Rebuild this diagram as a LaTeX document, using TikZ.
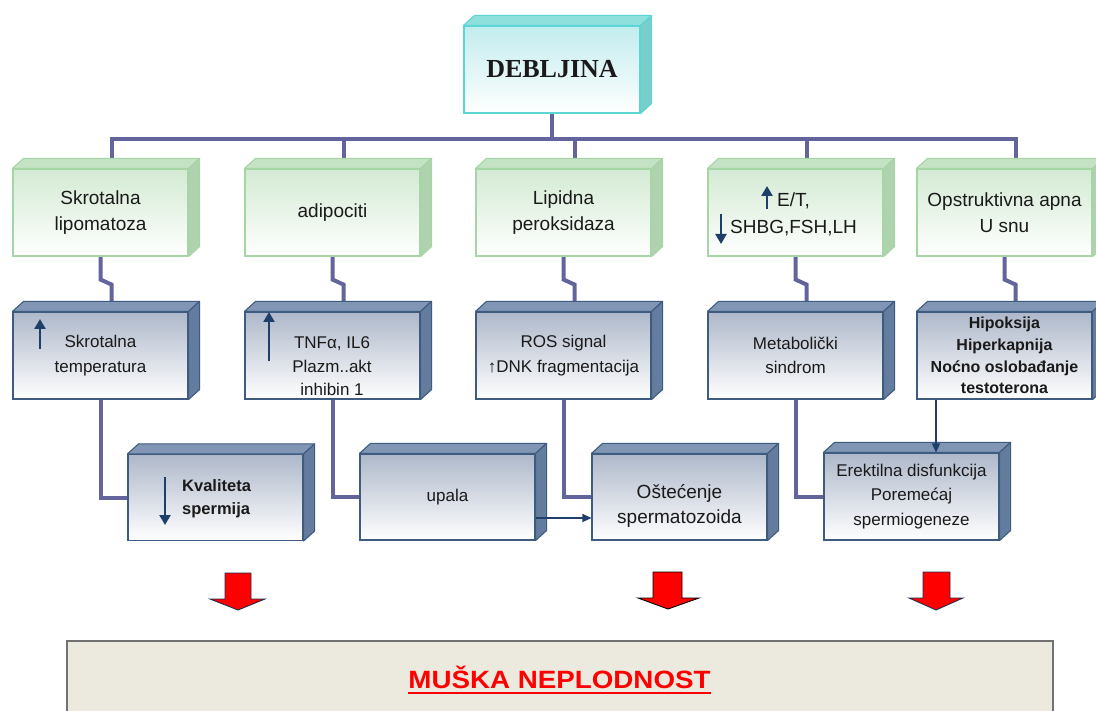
\documentclass[tikz,border=0pt]{standalone}
\usepackage{fontspec}
\setmainfont{Liberation Sans}
\newfontfamily\serifface{Liberation Serif}
\usetikzlibrary{calc,arrows.meta}
\definecolor{busc}{HTML}{63649B}
\definecolor{navy}{HTML}{1F3F6B}
\definecolor{txt}{HTML}{1A1A1A}
\definecolor{gborder}{HTML}{A6D6A6}
\definecolor{gfront}{HTML}{D3EAD3}
\definecolor{gtopf}{HTML}{C4E2C4}
\definecolor{gside}{HTML}{AFD2AF}
\definecolor{bborder}{HTML}{3E5C80}
\definecolor{bfront}{HTML}{AEB8CA}
\definecolor{btopf}{HTML}{8096B4}
\definecolor{bside}{HTML}{647D9F}
\definecolor{cborder}{HTML}{5CD6D4}
\definecolor{cfront}{HTML}{C2ECEE}
\definecolor{ctopf}{HTML}{8EE0DD}
\definecolor{cside}{HTML}{7ACEC9}
\definecolor{beige}{HTML}{ECE9DF}
\definecolor{framec}{HTML}{717171}
\definecolor{redshadow}{HTML}{203050}
\pgfdeclarelayer{bg}
\pgfsetlayers{bg,main}

\newcommand\sidefaces[4]{%
  \filldraw[fill=#2,draw=#4,line width=1.1pt,line join=round] (#1.north west) -- ($(#1.north west)+(11,-10)$) -- ($(#1.north east)+(11,-10)$) -- (#1.north east) -- cycle;
  \filldraw[fill=#3,draw=#4,line width=1.1pt,line join=round] (#1.north east) -- ($(#1.north east)+(11,-10)$) -- ($(#1.south east)+(11,-10)$) -- (#1.south east) -- cycle;
}

\tikzset{
  frontface/.style={minimum width=175pt, minimum height=87pt, inner sep=0pt, align=center, text=txt, line width=1.1pt},
  gbox/.style={frontface, draw=gborder, top color=gfront, bottom color=white, font=\fontsize{19}{26.5}\selectfont},
  bbox/.style={frontface, draw=bborder, top color=bfront, bottom color=white, font=\fontsize{17}{24.5}\selectfont},
  cbox/.style={frontface, minimum width=176pt, draw=cborder, top color=cfront, bottom color=white, font=\serifface\bfseries\fontsize{26}{30}\selectfont},
  busline/.style={draw=busc, line width=4pt},
  thinarr/.style={draw=navy, line width=1.3pt, -{Triangle[length=9pt,width=8pt]}},
  icon/.style={draw=navy, line width=2.6pt, -{Triangle[length=10pt,width=11pt]}},
  redarrow/.style={fill=red, line width=0.9pt, line join=miter},
  plaintext/.style={inner sep=0pt, text=txt},
}

\begin{document}
\begin{tikzpicture}[x=1pt,y=-1pt]
\useasboundingbox (0,0) rectangle (1096,711);
\clip (0,0) rectangle (1096,711);

% top box
\node[cbox] (top) at (552,69.5) {DEBLJINA};
\sidefaces{top}{ctopf}{cside}{cborder}

% green row
\node[gbox] (g1) at (100.5,212.5) {Skrotalna\\lipomatoza};
\node[gbox] (g2) at (332.5,212.5) {adipociti};
\node[gbox] (g3) at (563.5,212.5) {Lipidna\\peroksidaza};
\node[gbox] (g4) at (795.5,212.5) {};
\node[gbox] (g5) at (1004.5,212.5) {Opstruktivna apna\\U snu};
\foreach \i in {1,...,5} {\sidefaces{g\i}{gtopf}{gside}{gborder}}

% blue row
\node[bbox] (b1) at (100.5,355.5) {Skrotalna\\temperatura};
\node[bbox] (b2) at (332.5,355.5) {};
\node[bbox] (b3) at (563.5,355.5) {ROS signal\\↑DNK fragmentacija};
\node[bbox] (b4) at (795.5,355.5) {Metabolički\\sindrom};
\node[bbox, font=\bfseries\fontsize{16}{21.7}\selectfont] (b5) at (1004.5,355.5) {Hipoksija\\Hiperkapnija\\Noćno oslobađanje\\testoterona};
\foreach \i in {1,...,5} {\sidefaces{b\i}{btopf}{bside}{bborder}}

% third row
\node[bbox, minimum height=86pt] (k) at (215.5,497.5) {};
\node[bbox, minimum height=86pt] (u) at (447.5,497) {upala};
\node[bbox, minimum height=86pt] (o) at (679.5,497) {};
\node[bbox] (e) at (911.5,496.5) {Erektilna disfunkcija\\Poremećaj\\spermiogeneze};
\foreach \n in {k,u,o,e} {\sidefaces{\n}{btopf}{bside}{bborder}}

% texts placed separately
\node[plaintext, font=\fontsize{19}{26.5}\selectfont, anchor=base west] (et1) at (777,207) {E/T,};
\node[plaintext, font=\fontsize{19}{26.5}\selectfont, anchor=base west] (et2) at (730,234) {SHBG,FSH,LH};
\node[plaintext, font=\fontsize{17}{23.5}\selectfont, align=center] (b2t) at (332,366.5) {TNFα, IL6\\Plazm..akt\\inhibin 1};
\node[plaintext, font=\fontsize{19}{25}\selectfont, align=center] (ot) at (679.5,506) {Oštećenje\\spermatozoida};
\node[plaintext, font=\bfseries\fontsize{16.5}{23}\selectfont, align=left, anchor=west] (kt) at (182,498.4) {Kvaliteta\\spermija};

% icons (arrows inside boxes)
\draw[icon] (40,349) -- (40,319);
\draw[icon] (269,361) -- (269,312);
\draw[icon] (165,477) -- (165,525);
\draw[icon] (767,209) -- (767,186);
\draw[icon] (721,214) -- (721,244);

% connectors
\begin{pgfonlayer}{bg}
\fill[white] (0,0) rectangle (1096,711);
\coordinate (hub) at (552,139);
\draw[busline] (top.south) -- (hub);
\foreach \i in {1,...,5} {\draw[busline] (hub) -| ($(g\i.north)+(11,-10)$);}
\foreach \i in {1,...,5} {\draw[busline] (g\i.south) -- ++(0,23) -- ++(11,5) -- ($(b\i.north)+(11,-10)$);}
\draw[busline] (b1.south) |- (k.west);
\draw[busline] (b2.south) |- (u.west);
\draw[busline] (b3.south) |- (o.west);
\draw[busline] (b4.south) |- (e.west);
\end{pgfonlayer}

\draw[thinarr] ([yshift=-21pt]u.east) -- ([yshift=-21pt]o.west);
\coordinate (ha) at ([xshift=-68.5pt]b5.south);
\draw[thinarr] (ha) -- (ha |- e.north);

% red block arrows
\filldraw[redarrow, draw=redshadow] (225,573) -- (251,573) -- (251,599) -- (265,599) -- (238,610) -- (210,599) -- (225,599) -- cycle;
\filldraw[redarrow, draw=black] (653,572) -- (682,572) -- (682,598) -- (699,598) -- (668,609) -- (638,598) -- (653,598) -- cycle;
\filldraw[redarrow, draw=redshadow] (923,572) -- (950,572) -- (950,598) -- (963,598) -- (936,610) -- (909,598) -- (923,598) -- cycle;

% bottom box
\filldraw[fill=beige, draw=framec, line width=2pt] (67,641) rectangle (1053,760);
\node[inner sep=0pt, text=red, font=\bfseries\fontsize{25}{30}\selectfont, anchor=base] (res) at (559.5,688) {\scalebox{1.11}[1]{MUŠKA NEPLODNOST}};
\draw[red, line width=1.5pt] ([yshift=-5pt]res.base west) -- ([yshift=-5pt]res.base east);
\end{tikzpicture}
\end{document}
